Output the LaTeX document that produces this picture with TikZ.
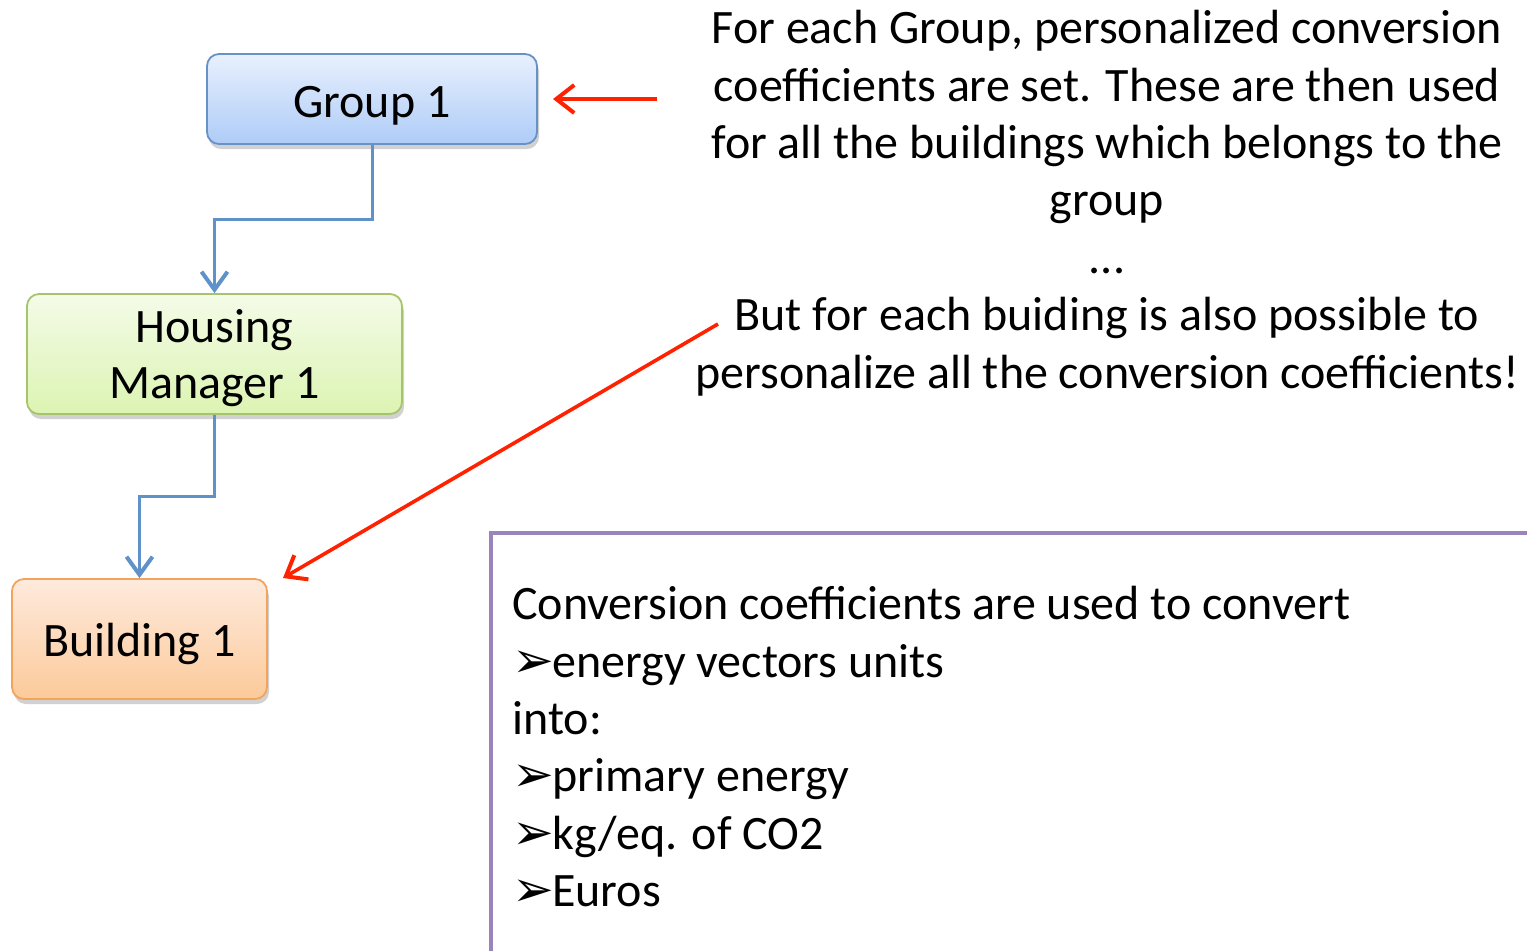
\documentclass[tikz,border=0pt]{standalone}
\usepackage{fontspec}
\setmainfont{Carlito}
\newfontfamily\symfont{DejaVu Sans}
\usetikzlibrary{arrows.meta,shadows,calc}
\definecolor{bluebd}{HTML}{6892C6}
\definecolor{bluetop}{HTML}{E8F0FD}
\definecolor{bluebot}{HTML}{AECCF8}
\definecolor{greenbd}{HTML}{A6C46C}
\definecolor{greentop}{HTML}{F4FBE8}
\definecolor{greenbot}{HTML}{DCF4B2}
\definecolor{orangebd}{HTML}{F3A45C}
\definecolor{orangetop}{HTML}{FEEADD}
\definecolor{orangebot}{HTML}{FCCA9A}
\definecolor{connblue}{HTML}{5F92CA}
\definecolor{redarrow}{HTML}{FF2200}
\definecolor{purplebd}{HTML}{9B84BA}
\newcommand{\bul}{{\symfont\fontsize{25}{25}\selectfont ➢}\hspace{-1pt}}
\newcommand{\lowered}[2]{\raisebox{#1}[\height][\depth]{\begin{tabular}{@{}c@{}}#2\end{tabular}}}
\begin{document}
\begin{tikzpicture}[x=0.5pt,y=-0.5pt,
  every node/.style={font=\fontsize{24}{28.7}\selectfont},
  boxbase/.style={rounded corners=6pt, line width=0.9pt, align=center, inner sep=0pt,
    drop shadow={shadow xshift=1pt, shadow yshift=-2.5pt, opacity=0.3, fill=black!60}},
  groupbox/.style={boxbase, draw=bluebd, top color=bluetop, bottom color=bluebot},
  housebox/.style={boxbase, draw=greenbd, top color=greentop, bottom color=greenbot},
  buildbox/.style={boxbase, draw=orangebd, top color=orangetop, bottom color=orangebot},
  conn/.style={draw=connblue, line width=1.5pt, -{Straight Barb[length=9pt,width=13pt,line width=2pt]}},
  redconn/.style={draw=redarrow, line width=1.8pt, -{Straight Barb[length=9pt,width=14pt,line width=2pt]}},
]
\useasboundingbox (0,0) rectangle (1527,950);

\node[groupbox, minimum width=165pt, minimum height=45pt] (g) at (372,99) {\lowered{-3.5pt}{Group 1}};
\node[housebox, minimum width=187.5pt, minimum height=60pt] (h) at (214.5,354) {\lowered{-2.5pt}{Housing\\[-1pt]Manager 1}};
\node[buildbox, minimum width=127.5pt, minimum height=60pt] (b) at (139.5,639) {\lowered{-3pt}{Building 1}};

\draw[conn] (g.south) -- ++(0,75) -| (h.north);
\draw[conn] (h.south) -- ++(0,82) -| (b.north);

\node[anchor=north, align=center, inner sep=0pt] (t) at (1107,10)
  {For each Group, personalized conversion\\
   coefficients are set. These are then used\\
   for all the buildings which belongs to the\\
   group\\
   ...\\
   But for each buiding is also possible to\\
   personalize all the conversion coefficients!};

\coordinate (r1s) at (657,99);
\coordinate (r1e) at (553,99);
\coordinate (r2s) at (718,324);
\coordinate (r2e) at (283,578);
\draw[redconn] (r1s) -- (r1e);
\draw[redconn] (r2s) -- (r2e);

\draw[draw=purplebd, line width=2pt] (1545,533) -- (491,533) -- (491,965);
\node[anchor=north west, align=left, inner sep=0pt] (c) at (512,586)
  {Conversion coefficients are used to convert\\
   \bul energy vectors units\\
   into:\\
   \bul primary energy\\
   \bul kg/eq. of CO2\\
   \bul Euros};
\end{tikzpicture}
\end{document}
